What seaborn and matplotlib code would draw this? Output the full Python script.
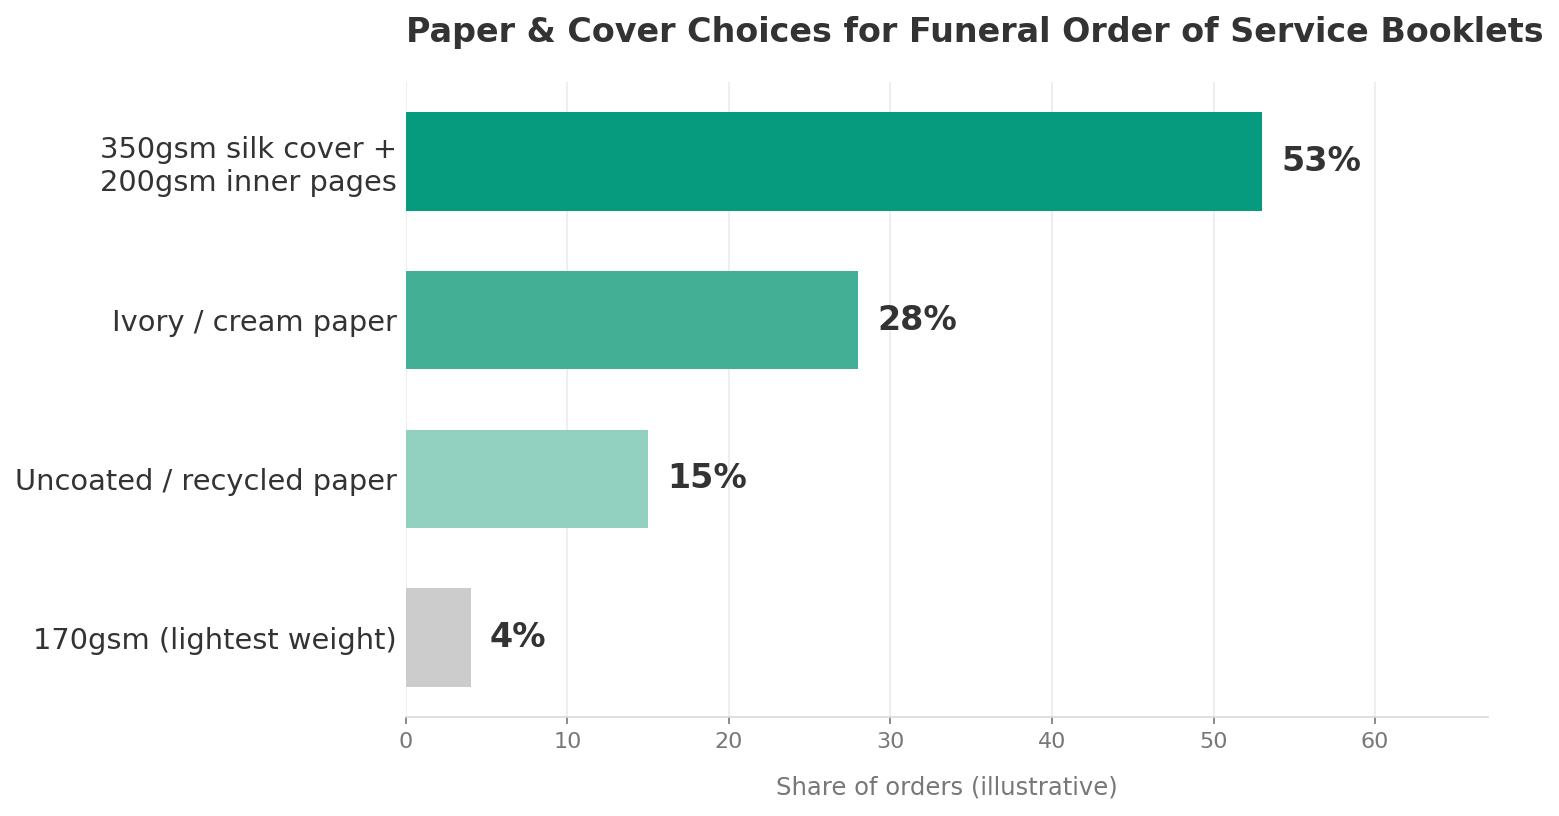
import matplotlib
matplotlib.use("Agg")
import matplotlib.pyplot as plt
import seaborn as sns
import pandas as pd

categories = ["350gsm silk cover +\n200gsm inner pages", "Ivory / cream paper",
              "Uncoated / recycled paper", "170gsm (lightest weight)"]
shares = [53, 28, 15, 4]
bar_colors = ["#069a7e", "#43af94", "#92d1bf", "#cccccc"]
x_ticks = [0, 10, 20, 30, 40, 50, 60]

df = pd.DataFrame({"paper": categories, "share": shares})

sns.set_theme(style="white")
plt.rcParams["font.family"] = ["DejaVu Sans"]

fig, ax = plt.subplots(figsize=(15.59, 8.16), dpi=100)
fig.subplots_adjust(left=0.2604, right=0.9545, top=0.8995, bottom=0.1213)

sns.barplot(data=df, x="share", y="paper", hue="paper", palette=bar_colors,
            legend=False, width=0.62, ax=ax, saturation=1, linewidth=0)

for i, v in enumerate(shares):
    ax.text(v + 1.2, i, f"{v}%", va="center", ha="left", fontsize=24,
            fontweight="bold", color="#333333")

ax.set_xlim(0, 67)
ax.set_xticks(x_ticks)
ax.grid(axis="x", color="#ebebeb", linewidth=1.2)
ax.set_axisbelow(True)
for s in ["top", "right", "left"]:
    ax.spines[s].set_visible(False)
ax.spines["bottom"].set_color("#d9d9d9")
ax.spines["bottom"].set_linewidth(1.2)
ax.tick_params(axis="x", colors="#777777", labelsize=16, length=5, width=1.2,
               bottom=True, pad=6)
ax.tick_params(axis="y", labelsize=20.8, length=0, labelcolor="#333333", pad=6.5)
ax.set_ylabel("")
ax.set_xlabel("Share of orders (illustrative)", fontsize=17.5, color="#777777",
              labelpad=17)
ax.set_title("Paper & Cover Choices for Funeral Order of Service Booklets",
             loc="left", fontsize=24, fontweight="bold", color="#333333", pad=28.5)

fig.savefig("out.png", dpi=100)
